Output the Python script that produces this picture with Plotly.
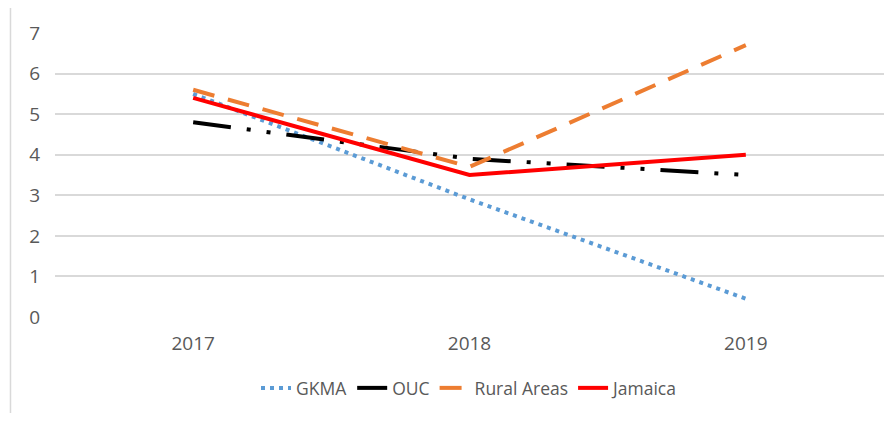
import plotly.graph_objects as go

years = ["2017", "2018", "2019"]
gkma = [5.5, 2.9, 0.45]
ouc = [4.8, 3.9, 3.5]
rural = [5.6, 3.7, 6.7]
jamaica = [5.4, 3.5, 4.0]
y_ticks = [0, 1, 2, 3, 4, 5, 6, 7]

fig = go.Figure()
fig.add_trace(go.Scatter(x=years, y=gkma, name="GKMA", mode="lines",
                         line=dict(color="#5B9BD5", width=4, dash="4px,5px")))
fig.add_trace(go.Scatter(x=years, y=ouc, name="OUC", mode="lines",
                         line=dict(color="#000000", width=4,
                                   dash="38px,16px,4px,16px,4px,16px")))
fig.add_trace(go.Scatter(x=years, y=rural, name="Rural Areas", mode="lines",
                         line=dict(color="#ED7D31", width=4, dash="22px,14px")))
fig.add_trace(go.Scatter(x=years, y=jamaica, name="Jamaica", mode="lines",
                         line=dict(color="#FF0000", width=4)))

font_family = "Open Sans, Liberation Sans, sans-serif"
fig.update_layout(
    width=876, height=405,
    margin=dict(l=47, r=0, t=25, b=96),
    paper_bgcolor="white", plot_bgcolor="white",
    font=dict(family=font_family, size=19, color="#595959"),
    showlegend=True,
    legend=dict(orientation="h", x=0.5, xanchor="center", y=-0.25, yanchor="middle",
                font=dict(size=17.5, color="#595959"), itemwidth=30,
                traceorder="normal"),
    xaxis=dict(type="category", range=[-0.5, 2.5], showgrid=False, showline=False,
               zeroline=False, ticks="outside", ticklen=9, tickcolor="rgba(0,0,0,0)",
               tickfont=dict(size=19, color="#595959")),
    yaxis=dict(range=[0, 7], tickvals=y_ticks, showgrid=True, gridcolor="#D9D9D9",
               gridwidth=1.5, zeroline=False, showline=False,
               ticks="outside", ticklen=10, tickcolor="rgba(0,0,0,0)",
               tickfont=dict(size=19, color="#595959")),
    shapes=[dict(type="line", xref="paper", yref="paper",
                 x0=-0.0537, x1=-0.0537, y0=1.09, y1=-0.4,
                 line=dict(color="#D9D9D9", width=1.5))],
)

fig.write_html("out.html")
